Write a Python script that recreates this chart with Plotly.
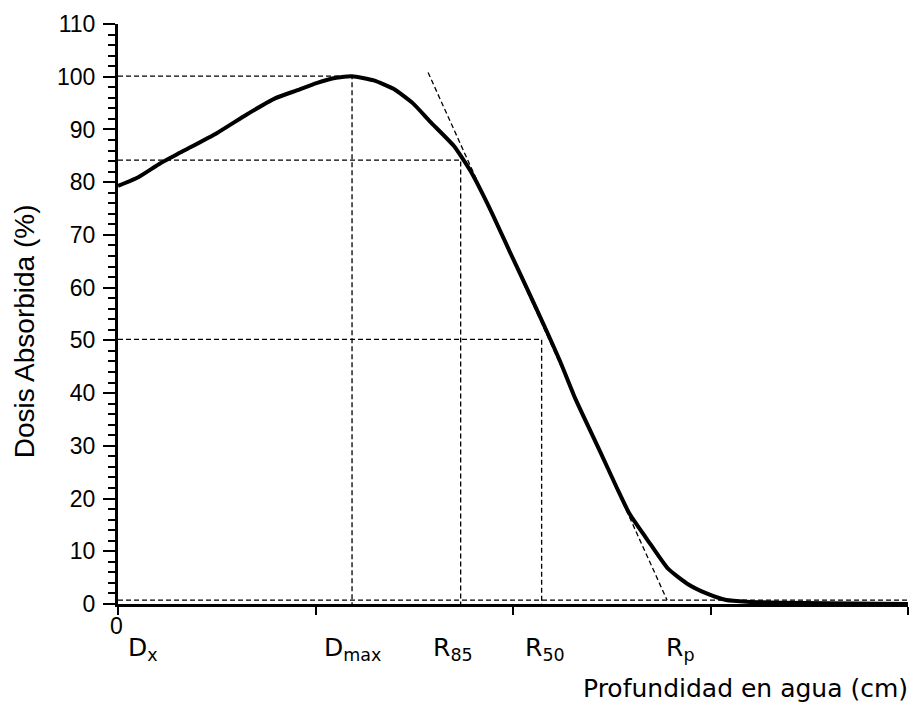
import plotly.graph_objects as go

# ---- data ----
depth_cm = [0.0, 0.21, 0.43, 0.65, 1.00, 1.30, 1.59, 1.81, 2.01, 2.21, 2.37, 2.59,
            2.79, 2.99, 3.16, 3.40, 3.57, 3.77, 3.97, 4.14, 4.33, 4.48, 4.63,
            4.88, 5.05, 5.18, 5.39, 5.57, 5.76, 5.96, 6.16, 6.37, 6.70, 7.20, 8.00]
dose_pct = [79.3, 81.0, 83.6, 85.8, 89.3, 92.8, 95.9, 97.4, 98.8, 99.8, 100.1, 99.3,
            97.7, 94.9, 91.5, 86.9, 82.1, 74.8, 66.7, 59.9, 52.2, 45.9, 39.0,
            29.0, 22.1, 17.1, 11.4, 6.7, 3.9, 2.0, 0.75, 0.43, 0.25, 0.12, 0.0]

# characteristic points (depth, dose)
dmax_x, dmax_y = 2.37, 100.1
r85_x, r85_y = 3.47, 84.2
r50_x, r50_y = 4.29, 50.2
rp_x, rp_y = 5.56, 0.75
x_end = 8.0

# tangent line at the steepest gradient
tangent_x = [3.14, 5.56]
tangent_y = [100.8, 0.75]

x_tickvals = [0, 2, 4, 6, 8]
x_zero_label = "0"

point_labels = ["D<sub>x</sub>", "D<sub>max</sub>", "R<sub>85</sub>", "R<sub>50</sub>", "R<sub>p</sub>"]
point_x = [0.0, dmax_x, r85_x, r50_x, rp_x]

fig = go.Figure()

DASH = "5px,3px"
ref_style = dict(color="black", width=1.3, dash=DASH)

def ref_corner(px, py):
    # horizontal from axis to point, then vertical down to axis
    fig.add_trace(go.Scatter(x=[0, px, px], y=[py, py, 0], mode="lines",
                             line=ref_style, hoverinfo="skip", showlegend=False))

ref_corner(dmax_x, dmax_y)
ref_corner(r85_x, r85_y)
ref_corner(r50_x, r50_y)

fig.add_trace(go.Scatter(x=[0, x_end], y=[rp_y, rp_y], mode="lines",
                         line=ref_style, hoverinfo="skip", showlegend=False))
fig.add_trace(go.Scatter(x=tangent_x, y=tangent_y, mode="lines",
                         line=ref_style, hoverinfo="skip", showlegend=False))

fig.add_trace(go.Scatter(x=depth_cm, y=dose_pct, mode="lines",
                         line=dict(color="black", width=4, shape="spline", smoothing=0.5),
                         showlegend=False, cliponaxis=False))

label_font = dict(family="DejaVu Sans", size=25, color="black")
shifts = [8, 0, -8, 3, 13]
anchors = ["left", "center", "center", "center", "center"]
for lab, px, sh, an in zip(point_labels, point_x, shifts, anchors):
    fig.add_annotation(x=px, y=0, xref="x", yref="paper", text=lab, showarrow=False,
                       xanchor=an, yanchor="top", xshift=sh, yshift=-27,
                       font=label_font)

# "0" tick label of the depth axis
fig.add_annotation(x=0, y=0, xref="x", yref="paper", text=x_zero_label, showarrow=False,
                   xanchor="center", yanchor="middle", xshift=-2, yshift=-22,
                   font=dict(family="Liberation Sans, Arial", size=23, color="black"))

fig.add_annotation(x=1, y=0, xref="paper", yref="paper",
                   text="Profundidad en agua (cm)", showarrow=False,
                   xanchor="right", yanchor="middle", yshift=-84, xshift=2,
                   font=label_font)

fig.add_annotation(x=-0.118, y=0.47, xref="paper", yref="paper",
                   text="Dosis Absorbida (%)", showarrow=False, textangle=-90,
                   xanchor="center", yanchor="middle",
                   font=dict(family="Liberation Sans, Arial", size=28, color="black"))

fig.update_layout(
    width=919, height=723,
    margin=dict(l=118, r=11, t=19, b=119),
    plot_bgcolor="white", paper_bgcolor="white",
    font=dict(family="Liberation Sans, Arial", size=23, color="black"),
    showlegend=False,
)
fig.update_xaxes(range=[0, x_end], tickvals=x_tickvals, showticklabels=False,
                 showline=True, linecolor="black", linewidth=3,
                 ticks="outside", ticklen=8, tickwidth=2, tickcolor="black",
                 showgrid=False, zeroline=False)
fig.update_yaxes(range=[0, 110], dtick=10, tick0=0,
                 showline=True, linecolor="black", linewidth=3,
                 ticks="outside", ticklen=12, tickwidth=2, tickcolor="black",
                 minor=dict(dtick=2, ticks="outside", ticklen=7, tickwidth=2,
                            tickcolor="black", showgrid=False),
                 showgrid=False, zeroline=False, ticklabelstandoff=3,
                 tickfont=dict(size=23))

fig.write_html("out.html")
